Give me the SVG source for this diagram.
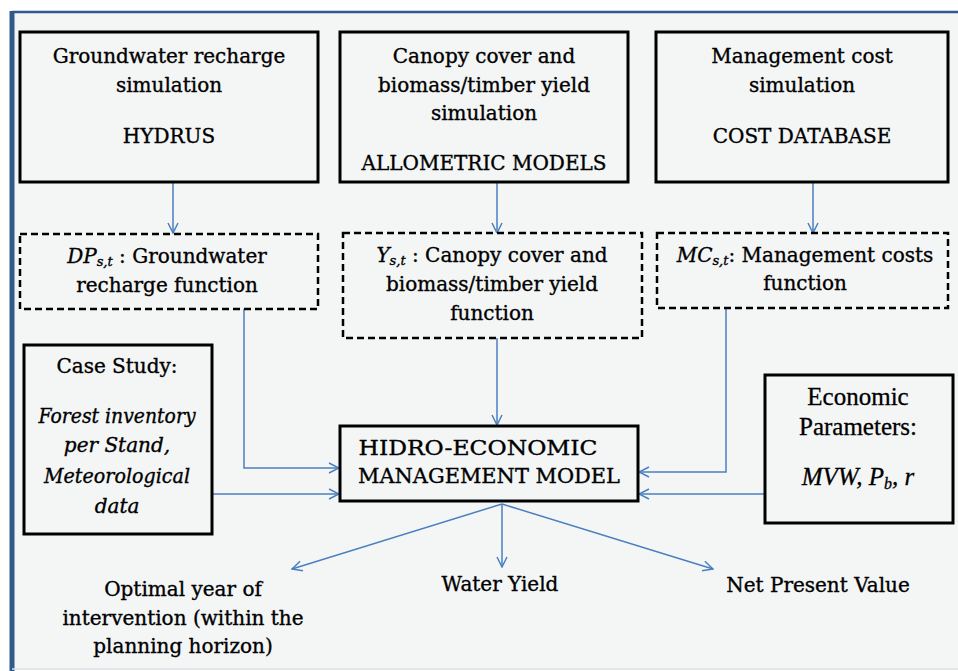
<svg xmlns="http://www.w3.org/2000/svg" width="958" height="671" viewBox="0 0 958 671">
<defs>
<marker id="ah" viewBox="0 0 12 12" refX="11" refY="6" markerWidth="12" markerHeight="12" markerUnits="userSpaceOnUse" orient="auto">
<path d="M1,1 L11,6 L1,11" fill="none" stroke="#4a7fc0" stroke-width="1.5"/>
</marker>
</defs>
<style>
.box{fill:#f4f6f6;stroke:#000;stroke-width:3}
.dbox{fill:#f4f6f6;stroke:#000;stroke-width:2.5;stroke-dasharray:7,4}
.t{font-family:"DejaVu Serif","Liberation Serif",serif;font-size:20px;fill:#000;stroke:#000;stroke-width:0.35;text-anchor:middle}
.tt{font-family:"Liberation Serif","Times New Roman",serif;font-size:25px;fill:#000;stroke:#000;stroke-width:0.3;text-anchor:middle}
.it{font-style:italic}
.sub{font-size:13px;font-style:italic}
.c{fill:none;stroke:#4a7fc0;stroke-width:1.5;marker-end:url(#ah)}
</style>
<rect x="0" y="0" width="958" height="671" fill="#ffffff"/>
<rect x="12" y="12" width="946" height="656" fill="#f4f6f6"/>
<line x1="12" y1="12" x2="958" y2="12" stroke="#2e5a8c" stroke-width="2.5"/>
<line x1="12" y1="11" x2="12" y2="671" stroke="#2e5a8c" stroke-width="5"/>
<line x1="12" y1="669" x2="958" y2="669" stroke="#d8dde2" stroke-width="1.5"/>

<g id="connectors">
<path class="c" d="M173,182 V233"/>
<path class="c" d="M497,182 V233"/>
<path class="c" d="M813,182 V233"/>
<path class="c" d="M244,309 V468 H339"/>
<path class="c" d="M497,338 V425"/>
<path class="c" d="M726,308 V472 H639"/>
<path class="c" d="M212,494 H339"/>
<path class="c" d="M765,494 H639"/>
<path class="c" d="M502,504 L292,569"/>
<path class="c" d="M502,504 V567"/>
<path class="c" d="M502,504 L713,569"/>
</g>

<g id="n-groundwater">
<rect class="box" x="20" y="32" width="298" height="150"/>
<text class="t" x="169" y="63">Groundwater recharge</text>
<text class="t" x="169" y="92">simulation</text>
<text class="t" x="169" y="143">HYDRUS</text>
</g>
<g id="n-canopy">
<rect class="box" x="340" y="32" width="288" height="150"/>
<text class="t" x="484" y="63">Canopy cover and</text>
<text class="t" x="484" y="92">biomass/timber yield</text>
<text class="t" x="484" y="120">simulation</text>
<text class="t" x="484" y="170">ALLOMETRIC MODELS</text>
</g>
<g id="n-cost">
<rect class="box" x="656" y="32" width="292" height="150"/>
<text class="t" x="802" y="63">Management cost</text>
<text class="t" x="802" y="92">simulation</text>
<text class="t" x="802" y="143">COST DATABASE</text>
</g>

<g id="n-dp">
<rect class="dbox" x="20" y="234" width="298" height="75"/>
<text class="t" x="167" y="263"><tspan class="it">DP</tspan><tspan class="sub" dy="3">s,t</tspan><tspan dy="-3"> : Groundwater</tspan></text>
<text class="t" x="167" y="292">recharge function</text>
</g>
<g id="n-y">
<rect class="dbox" x="343" y="233" width="299" height="105"/>
<text class="t" x="492" y="262"><tspan class="it">Y</tspan><tspan class="sub" dy="3">s,t</tspan><tspan dy="-3"> : Canopy cover and</tspan></text>
<text class="t" x="492" y="291">biomass/timber yield</text>
<text class="t" x="492" y="320">function</text>
</g>
<g id="n-mc">
<rect class="dbox" x="657" y="233" width="291" height="75"/>
<text class="t" x="805" y="262"><tspan class="it">MC</tspan><tspan class="sub" dy="3">s,t</tspan><tspan dy="-3">: Management costs</tspan></text>
<text class="t" x="805" y="290">function</text>
</g>

<g id="n-case">
<rect class="box" x="24" y="345" width="188" height="189"/>
<text class="t" x="117" y="373">Case Study:</text>
<text class="t it" x="117" y="423" textLength="157" lengthAdjust="spacingAndGlyphs">Forest inventory</text>
<text class="t it" x="117" y="452">per Stand,</text>
<text class="t it" x="117" y="483" textLength="146" lengthAdjust="spacingAndGlyphs">Meteorological</text>
<text class="t it" x="117" y="513">data</text>
</g>

<g id="n-econ">
<rect class="box" x="765" y="375" width="188" height="148"/>
<text class="tt" x="858" y="405">Economic</text>
<text class="tt" x="858" y="435">Parameters:</text>
<text class="tt it" x="858" y="485">MVW, P<tspan font-size="16px" dy="4">b</tspan><tspan dy="-4">, r</tspan></text>
</g>

<g id="n-model">
<rect class="box" x="340" y="426" width="298" height="75"/>
<text class="t" x="478" y="455" textLength="239" lengthAdjust="spacingAndGlyphs">HIDRO-ECONOMIC</text>
<text class="t" x="489" y="483" textLength="262" lengthAdjust="spacingAndGlyphs">MANAGEMENT MODEL</text>
</g>

<g id="n-optimal">
<text class="t" x="183" y="596">Optimal year of</text>
<text class="t" x="183" y="625">intervention (within the</text>
<text class="t" x="183" y="653">planning horizon)</text>
</g>
<g id="n-water">
<text class="t" x="500" y="591">Water Yield</text>
</g>
<g id="n-npv">
<text class="t" x="818" y="592">Net Present Value</text>
</g>
</svg>
